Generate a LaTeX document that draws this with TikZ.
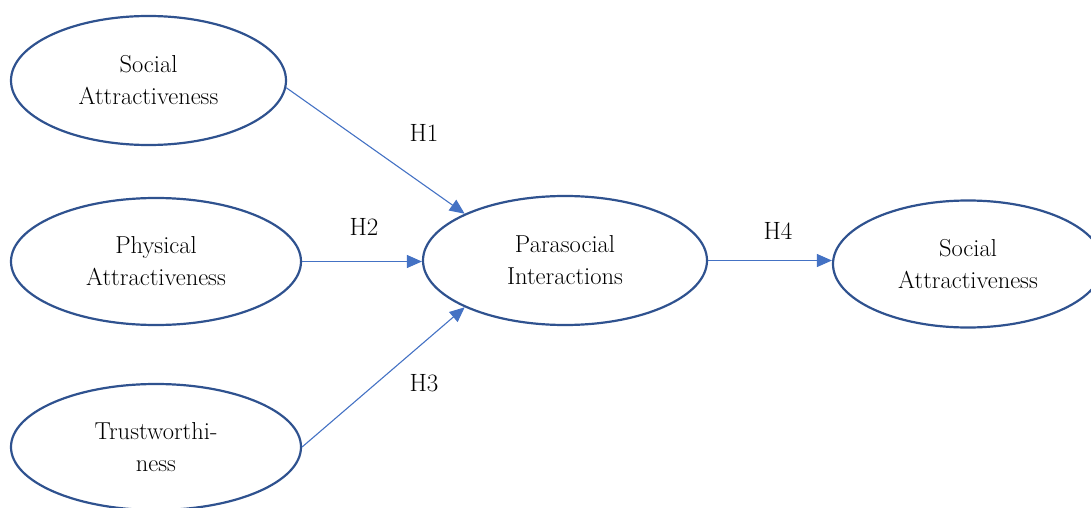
\documentclass[tikz,border=0pt]{standalone}
\usepackage{fontspec}
\usetikzlibrary{shapes.geometric,arrows.meta}
\definecolor{ellblue}{HTML}{2F528F}
\definecolor{arrblue}{HTML}{4472C4}
\begin{document}
\begin{tikzpicture}[x=1pt,y=-1pt,
  construct/.style={ellipse,draw=ellblue,line width=2.2pt,inner sep=0pt,align=center,
    font=\fontsize{24.5}{32}\selectfont},
  path/.style={draw=arrblue,line width=1.1pt,-{Triangle[length=15pt,width=13pt]}},
  hlabel/.style={font=\fontsize{25}{28}\selectfont}]
\useasboundingbox (0,0) rectangle (1091,508);
\node[construct,minimum width=275pt,minimum height=129pt] (sa1) at (148.5,80.5) {Social\\Attractiveness};
\node[construct,minimum width=290pt,minimum height=127pt] (pa) at (156,261.5) {Physical\\Attractiveness};
\node[construct,minimum width=290pt,minimum height=126pt] (tw) at (156,447) {Trustworthi-\\ness};
\node[construct,minimum width=284pt,minimum height=129pt] (pi) at (565,260.5) {Parasocial\\Interactions};
\node[construct,minimum width=270pt,minimum height=127pt] (sa2) at (968,264) {Social\\Attractiveness};
\draw[path] (sa1.-3) -- (pi.155);
\draw[path] (pa.east) -- (pa.east -| pi.west);
\draw[path] (tw.east) -- (pi.205);
\draw[path] (pi.east) -- (pi.east -| sa2.west);
\node[hlabel] (h1) at (424,133) {H1};
\node[hlabel] (h2) at (364,227) {H2};
\node[hlabel] (h3) at (424,383) {H3};
\node[hlabel] (h4) at (778,231) {H4};
\end{tikzpicture}
\end{document}
